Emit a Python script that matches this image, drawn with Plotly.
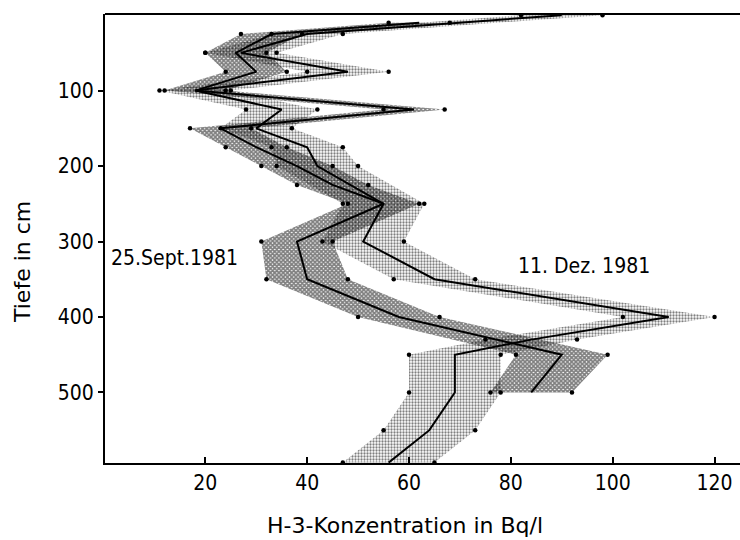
import plotly.graph_objects as go

# H-3 soil-water profiles: depth (cm), concentration (Bq/l) and band half-width
depth_sept = [10, 25, 50, 75, 100, 125, 150, 175, 200, 225, 250, 300, 350, 400, 450, 500]
conc_sept = [62, 33, 26, 30, 18, 61, 23, 30, 38, 45, 55, 38, 40, 58, 90, 84]
err_sept = [6, 6, 6, 6, 6, 6, 6, 6, 7, 7, 7, 7, 8, 8, 9, 8]

depth_dec = [0, 25, 50, 75, 100, 125, 150, 175, 200, 250, 300, 350, 400, 430, 450, 500, 550, 593]
conc_dec = [90, 40, 27, 48, 18, 35, 30, 40, 42, 55, 51, 65, 111, 84, 69, 69, 64, 56]
err_dec = [8, 7, 7, 8, 7, 7, 7, 7, 8, 8, 8, 8, 9, 9, 9, 9, 9, 9]

x_ticks = [20, 40, 60, 80, 100, 120]
y_ticks = [100, 200, 300, 400, 500]

label_sept = "25.Sept.1981"
label_dec = "11. Dez. 1981"
x_title = "H-3-Konzentration in Bq/l"
y_title = "Tiefe in cm"

TICK_FONT = dict(family="DejaVu Sans Condensed", size=21, color="black")
TITLE_FONT = dict(family="DejaVu Sans", size=22, color="black")


def band(depth, conc, err):
    lo = [c - e for c, e in zip(conc, err)]
    hi = [c + e for c, e in zip(conc, err)]
    xs = lo + hi[::-1]
    ys = depth + depth[::-1]
    return xs, ys, lo, hi


fig = go.Figure()

# stippled band: December profile
xs, ys, lo_d, hi_d = band(depth_dec, conc_dec, err_dec)
fig.add_trace(go.Scatter(
    x=xs, y=ys, mode="lines", fill="toself",
    line=dict(width=0), fillcolor="rgba(0,0,0,0)",
    fillpattern=dict(shape=".", size=3, solidity=0.45, fgcolor="black", bgcolor="rgba(0,0,0,0)"),
    hoverinfo="skip", showlegend=False))

# cross-hatched band: September profile
xs, ys, lo_s, hi_s = band(depth_sept, conc_sept, err_sept)
fig.add_trace(go.Scatter(
    x=xs, y=ys, mode="lines", fill="toself",
    line=dict(width=0), fillcolor="rgba(0,0,0,0)",
    fillpattern=dict(shape="x", size=3, solidity=0.8, fgcolor="black", bgcolor="rgba(0,0,0,0)"),
    hoverinfo="skip", showlegend=False))

# measured points at the band edges
for lo, hi, d in ((lo_d, hi_d, depth_dec), (lo_s, hi_s, depth_sept)):
    fig.add_trace(go.Scatter(
        x=lo + hi, y=d + d, mode="markers",
        marker=dict(size=4.5, color="black"),
        hoverinfo="skip", showlegend=False))

# profile lines
fig.add_trace(go.Scatter(x=conc_dec, y=depth_dec, mode="lines",
                         line=dict(color="black", width=2), showlegend=False))
fig.add_trace(go.Scatter(x=conc_sept, y=depth_sept, mode="lines",
                         line=dict(color="black", width=2), showlegend=False))

fig.add_annotation(x=1, y=322, xref="x", yref="y", text=label_sept, showarrow=False,
                   xanchor="left", yanchor="middle",
                   font=dict(family="DejaVu Sans Condensed", size=21, color="black"))
fig.add_annotation(x=81, y=333, xref="x", yref="y", text=label_dec, showarrow=False,
                   xanchor="left", yanchor="middle",
                   font=dict(family="DejaVu Sans Condensed", size=21, color="black"))

# axis titles
fig.add_annotation(x=405, y=525, xref="paper", yref="paper", text=x_title, showarrow=False,
                   xanchor="center", yanchor="middle", font=TITLE_FONT)
fig.add_annotation(x=22, y=262, xref="paper", yref="paper", text=y_title, showarrow=False,
                   textangle=-90, xanchor="center", yanchor="middle", font=TITLE_FONT)

# top frame line
fig.add_shape(type="line", xref="paper", yref="paper", x0=0, x1=1, y0=1, y1=1,
              line=dict(color="black", width=2))

fig.update_xaxes(
    range=[0.3, 125], tickvals=x_ticks, ticktext=[str(v) for v in x_ticks],
    ticks="inside", ticklen=6, tickwidth=1.5, tickcolor="black",
    showline=True, linecolor="black", linewidth=2, showgrid=False, zeroline=False,
    tickfont=TICK_FONT)
fig.update_yaxes(
    range=[593.5, -1.5], tickvals=y_ticks, ticktext=[str(v) for v in y_ticks],
    ticks="outside", ticklen=5, tickwidth=1.5, tickcolor="black",
    showline=True, linecolor="black", linewidth=2, showgrid=False, zeroline=False,
    tickfont=TICK_FONT)

fig.update_layout(
    width=740, height=540,
    margin=dict(l=105, r=0, t=14, b=77),
    paper_bgcolor="white", plot_bgcolor="white",
)

# annotation positions above are given in pixels; convert to paper fractions
pw, ph = 740 - 105, 540 - 14 - 77
for ann in fig.layout.annotations:
    if ann.xref == "paper":
        ann.x = (ann.x - 105) / pw
        ann.y = 1 - (ann.y - 14) / ph

fig.write_html("out.html")
